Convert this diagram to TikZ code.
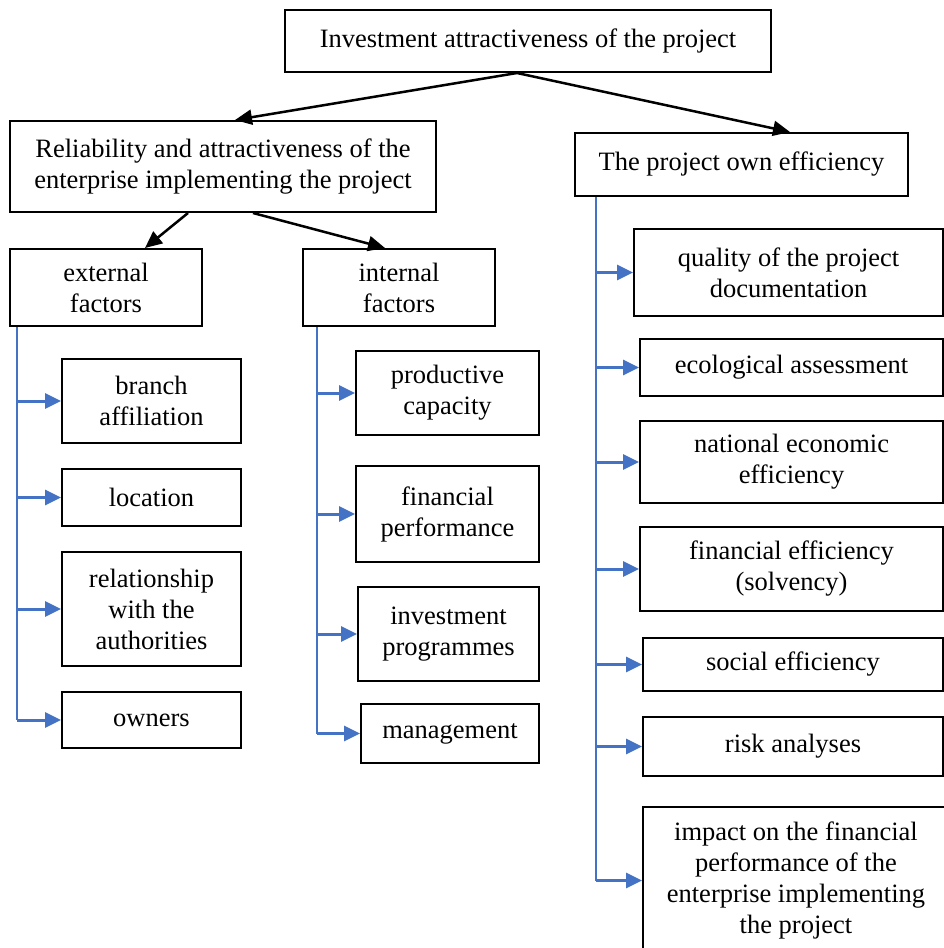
\documentclass[tikz,border=0pt]{standalone}
\usepackage{fontspec}
\setmainfont{Liberation Serif}
\usepackage{xcolor}
\usepackage{tikz}
\usetikzlibrary{
    arrows.meta,
    positioning
}

\definecolor{linkblue}{HTML}{4472C4}

\begin{document}
\begin{tikzpicture}[
    x=1pt, y=-1pt,
    box/.style={
        draw,
        line width=2pt,
        rectangle,
        align=center,
        inner sep=2pt,
        font=\fontsize{26.5}{31}\selectfont
    },
    down arrow/.style={
        draw,
        line width=2.5pt,
        -{Triangle[length=17pt, width=15pt]}
    },
    blue bar/.style={
        draw=linkblue,
        line width=1.5pt
    },
    blue arrow/.style={
        draw=linkblue,
        line width=3pt,
        -{Triangle[length=16pt, width=15pt]}
    }
]

\useasboundingbox (0,0) rectangle (944,948);

\node[box, minimum width=486pt, minimum height=62pt] (invest) at (528,41) {Investment attractiveness of the project};
\node[box, minimum width=426pt, minimum height=91pt] (reliab) at (223,166.5) {Reliability and attractiveness of the\\enterprise implementing the project};
\node[box, minimum width=333pt, minimum height=63pt] (own) at (741.5,164.5) {The project own efficiency};

\node[box, minimum width=192pt, minimum height=77pt] (ext) at (106,287.5) {external\\factors};
\node[box, minimum width=192pt, minimum height=77pt] (int) at (399,287.5) {internal\\factors};

\node[box, minimum width=179pt, minimum height=84pt] (branch) at (151.5,401) {branch\\affiliation};
\node[box, minimum width=179pt, minimum height=57pt] (location) at (151.5,497.5) {location};
\node[box, minimum width=179pt, minimum height=114pt] (authority) at (151.5,609) {relationship\\with the\\authorities};
\node[box, minimum width=179pt, minimum height=56pt] (owners) at (151.5,720) {owners};

\node[box, minimum width=183pt, minimum height=84pt] (capacity) at (447.5,393) {productive\\capacity};
\node[box, minimum width=183pt, minimum height=96pt] (finperf) at (447.5,514) {financial\\performance};
\node[box, minimum width=181pt, minimum height=94pt] (programmes) at (448.5,634) {investment\\programmes};
\node[box, minimum width=178pt, minimum height=59pt] (management) at (450,733.5) {management};

\node[box, minimum width=309pt, minimum height=87pt] (quality) at (788.5,272.5) {quality of the project\\documentation};
\node[box, minimum width=303pt, minimum height=57pt] (ecology) at (791.5,367.5) {ecological assessment};
\node[box, minimum width=303pt, minimum height=82pt] (national) at (791.5,462) {national economic\\efficiency};
\node[box, minimum width=303pt, minimum height=84pt] (solvency) at (791.5,569) {financial efficiency\\(solvency)};
\node[box, minimum width=300pt, minimum height=53pt] (social) at (793,664.5) {social efficiency};
\node[box, minimum width=300pt, minimum height=59pt] (risk) at (793,746.5) {risk analyses};
\node[box, minimum width=306pt, minimum height=147pt] (impact) at (796,880.5) {impact on the financial\\performance of the\\enterprise implementing\\the project};

\draw[down arrow] ([xshift=-11pt]invest.south) -- ([xshift=12pt]reliab.north);
\draw[down arrow] ([xshift=-11pt]invest.south) -- ([xshift=48.5pt]own.north);
\draw[down arrow] ([xshift=-35pt]reliab.south) -- ([xshift=39pt]ext.north);
\draw[down arrow] ([xshift=30pt]reliab.south) -- ([xshift=-14pt]int.north);

\coordinate (extbar) at ([xshift=8pt]ext.south west);
\coordinate (intbar) at ([xshift=15pt]int.south west);
\coordinate (ownbar) at ([xshift=22pt]own.south west);

\draw[blue bar] (extbar) -- (extbar |- owners.west);
\draw[blue bar] (intbar) -- (intbar |- management.west);
\draw[blue bar] (ownbar) -- (ownbar |- impact.west);

\foreach \n in {branch, location, authority, owners}
    \draw[blue arrow] (extbar |- \n.west) -- (\n.west);
\foreach \n in {capacity, finperf, programmes, management}
    \draw[blue arrow] (intbar |- \n.west) -- (\n.west);
\foreach \n in {quality, ecology, national, solvency, social, risk, impact}
    \draw[blue arrow] (ownbar |- \n.west) -- (\n.west);

\end{tikzpicture}
\end{document}
